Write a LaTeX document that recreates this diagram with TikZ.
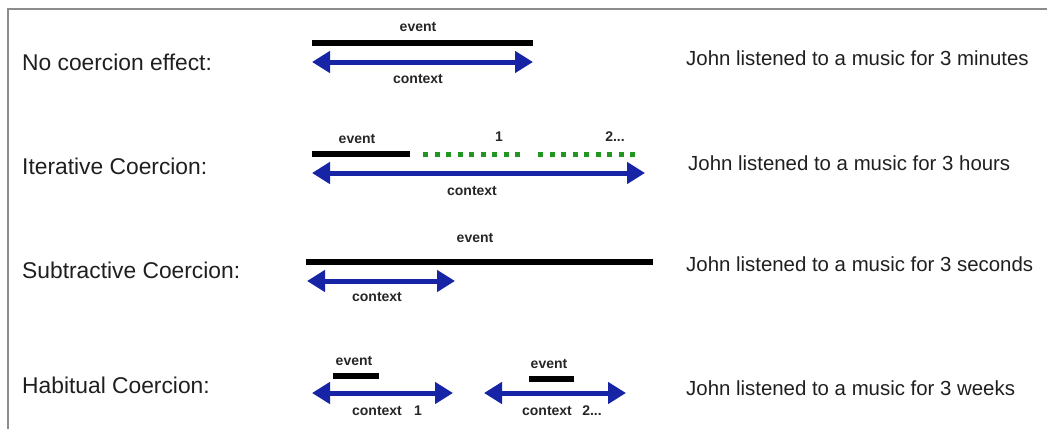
\documentclass[tikz,border=0pt]{standalone}
\usepackage{fontspec}
\setmainfont{Liberation Sans}
\usetikzlibrary{arrows.meta,positioning}
\definecolor{ctxblue}{RGB}{22,36,165}
\definecolor{itergreen}{RGB}{34,150,34}
\definecolor{framegray}{RGB}{140,140,140}

\begin{document}
\begin{tikzpicture}[
  x=1pt,y=-1pt,
  rowlabel/.style={anchor=west,inner sep=0pt,font=\fontsize{22.8}{24}\selectfont,text=black!88},
  sentence/.style={anchor=west,inner sep=0pt,font=\fontsize{20.4}{22}\selectfont,text=black!88},
  tag/.style={inner sep=0pt,font=\fontsize{14}{16}\selectfont\bfseries,text=black!85},
  bar/.style={line width=5.5pt,black},
  ctx/.style={{Triangle[length=18pt,width=21pt]}-{Triangle[length=18pt,width=21pt]},line width=5pt,ctxblue},
  rep/.style={line width=5pt,itergreen,dash pattern=on 5pt off 6.5pt}
]
\useasboundingbox (0,0) rectangle (1047,429);
\draw[framegray,line width=1.5pt] (1047,9) -- (8,9) -- (8,429);

% row labels and example sentences
\node[rowlabel] (nolab)  at (22,62)  {No coercion effect:};
\node[rowlabel] (itlab)  at (22,166) {Iterative Coercion:};
\node[rowlabel] (sublab) at (22,270) {Subtractive Coercion:};
\node[rowlabel] (hablab) at (22,385) {Habitual Coercion:};

\node[sentence] (nosent)  at (686,58)  {John listened to a music for 3 minutes};
\node[sentence] (itsent)  at (688,163) {John listened to a music for 3 hours};
\node[sentence] (subsent) at (686,264) {John listened to a music for 3 seconds};
\node[sentence] (habsent) at (686,388) {John listened to a music for 3 weeks};

% no coercion
\coordinate (noev1) at (312,43);  \coordinate (noev2) at (533,43);
\coordinate (nocx1) at (312,62);  \coordinate (nocx2) at (533,62);
\draw[bar] (noev1) -- (noev2);
\draw[ctx] (nocx1) -- (nocx2);
\node[tag] (noevent) at (418,27) {event};
\node[tag] (nocontext) at (418,79) {context};

% iterative
\coordinate (itev1) at (312,154); \coordinate (itev2) at (410,154);
\coordinate (itrepa1) at (423,154); \coordinate (itrepa2) at (520,154);
\coordinate (itrepb1) at (538,154); \coordinate (itrepb2) at (637,154);
\coordinate (itcx1) at (312,173); \coordinate (itcx2) at (645,173);
\draw[bar] (itev1) -- (itev2);
\draw[rep] (itrepa1) -- (itrepa2);
\draw[rep] (itrepb1) -- (itrepb2);
\draw[ctx] (itcx1) -- (itcx2);
\node[tag] (itevent) at (357,139) {event};
\node[tag] (itone) at (499,137) {1};
\node[tag] (ittwo) at (615,137) {2...};
\node[tag] (itcontext) at (472,191) {context};

% subtractive
\coordinate (subev1) at (306,262); \coordinate (subev2) at (653,262);
\coordinate (subcx1) at (307,281); \coordinate (subcx2) at (455,281);
\draw[bar] (subev1) -- (subev2);
\draw[ctx] (subcx1) -- (subcx2);
\node[tag] (subevent) at (475,238) {event};
\node[tag] (subcontext) at (377,297) {context};

% habitual
\coordinate (habeva1) at (333,376); \coordinate (habeva2) at (379,376);
\coordinate (habcxa1) at (312,393); \coordinate (habcxa2) at (453,393);
\coordinate (habevb1) at (529,379); \coordinate (habevb2) at (574,379);
\coordinate (habcxb1) at (484,393); \coordinate (habcxb2) at (626,393);
\draw[bar] (habeva1) -- (habeva2);
\draw[ctx] (habcxa1) -- (habcxa2);
\draw[bar] (habevb1) -- (habevb2);
\draw[ctx] (habcxb1) -- (habcxb2);
\node[tag] (habeventa) at (354,361) {event};
\node[tag] (habcontexta) at (377,411) {context};
\node[tag] (habone) at (418,411) {1};
\node[tag] (habeventb) at (549,364) {event};
\node[tag] (habcontextb) at (547,411) {context};
\node[tag] (habtwo) at (592,411) {2...};
\end{tikzpicture}
\end{document}
